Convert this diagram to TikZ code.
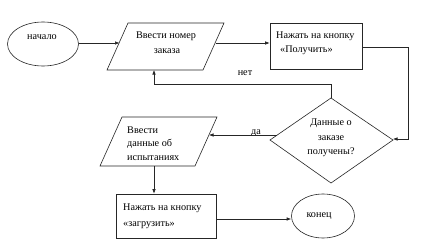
\documentclass[tikz,border=0pt]{standalone}
\usepackage{fontspec}
\setmainfont{Liberation Serif}
\usetikzlibrary{arrows.meta,shapes.geometric}
\begin{document}
\begin{tikzpicture}[x=1pt,y=-1pt,
  shp/.style={draw=black!85,line width=0.6pt},
  arr/.style={draw=black!85,line width=0.6pt,-{Latex[length=4.5pt,width=3.5pt]}},
  txt/.style={font=\fontsize{10.2}{12}\selectfont,inner sep=0pt},
  lt/.style={txt,anchor=base west},
  ct/.style={txt,anchor=base}]
\useasboundingbox[fill=white] (0,0) rectangle (426,249);
% shapes
\node[shp,ellipse,minimum width=71pt,minimum height=44pt,inner sep=0pt] (start) at (43,44) {};
\draw[shp] (128,23) coordinate (p1tl) -- (224,23) coordinate (p1tr) -- (203,70) coordinate (p1br) -- (107,70) coordinate (p1bl) -- cycle;
\node[shp,rectangle,minimum width=92pt,minimum height=46pt,inner sep=0pt] (r1) at (316,46) {};
\draw[shp] (331,98) coordinate (dt) -- (393,140) coordinate (dr) -- (331,183) coordinate (db) -- (270,140) coordinate (dl) -- cycle;
\draw[shp] (122,117) -- (217,117) -- (195,166) -- (100,166) -- cycle;
\node[shp,rectangle,minimum width=100pt,minimum height=44pt,inner sep=0pt] (r2) at (166,216) {};
\node[shp,ellipse,minimum width=63pt,minimum height=44pt,inner sep=0pt] (fin) at (323,216) {};
% texts
\node[ct] (t1) at (42,39) {начало};
\node[ct] (t2) at (166,38) {Ввести номер};
\node[ct] (t3) at (167,53) {заказа};
\node[lt] (t4) at (276,38) {Нажать на кнопку};
\node[lt] (t5) at (280,52) {«Получить»};
\node[ct] (t6) at (245,75) {нет};
\node[ct] (t7) at (256,134) {да};
\node[ct] (t8) at (331,125) {Данные о};
\node[ct] (t9) at (331,140) {заказе};
\node[ct] (t10) at (331,154) {получены?};
\node[lt] (t11) at (127,133) {Ввести};
\node[lt] (t12) at (127,146) {данные об};
\node[lt] (t13) at (127,160) {испытаниях};
\node[lt] (t14) at (123,210) {Нажать на кнопку};
\node[lt] (t15) at (123,226) {«загрузить»};
\node[ct] (t16) at (319,217) {конец};
% connector points
\coordinate (p1in) at (119.5,43);
\coordinate (p1out) at (215.5,43);
\coordinate (c1) at (408,47);
\coordinate (c2) at (408,139);
\coordinate (c3) at (331,84);
\coordinate (c4) at (154,84);
\coordinate (p1bot) at (154,70);
\coordinate (dla) at (277,135);
\coordinate (p2in) at (209,135);
\coordinate (p2bot) at (154,166);
\coordinate (y219) at (0,219);
% connectors
\draw[arr] (start.east |- p1in) -- (p1in);
\draw[arr] (p1out) -- (r1.west |- p1out);
\draw[arr] (r1.east |- c1) -- (c1) -- (c2) -- (dr |- c2);
\draw[arr] (dt) -- (c3) -- (c4) -- (p1bot);
\draw[arr] (dla) -- (p2in);
\draw[arr] (p2bot) -- (r2.north -| p2bot);
\draw[arr] (r2.east |- y219) -- (fin.west |- y219);
\end{tikzpicture}
\end{document}
